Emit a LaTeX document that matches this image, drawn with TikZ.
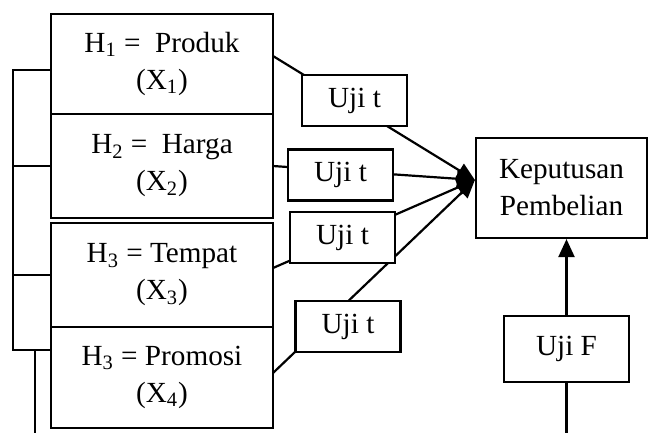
\documentclass[tikz,border=0pt]{standalone}
\usepackage{fontspec}
\setmainfont{Liberation Serif}
\usetikzlibrary{positioning, arrows.meta}

\begin{document}
\begin{tikzpicture}[x=0.5pt, y=-0.5pt, line width=1.1pt,
  every node/.style={font=\fontsize{14.6}{18.5}\selectfont},
  var/.style={draw, rectangle, minimum width=111pt, align=center, inner sep=0pt, outer sep=0pt},
  uji/.style={draw, fill=white, minimum width=52.5pt, minimum height=25.5pt, inner sep=0pt},
  tip/.style={-{Triangle[length=9pt, width=8pt]}}]
  \useasboundingbox (0,0) rectangle (648,433);
  \coordinate (B) at (0,433);

  \node[var, minimum height=50pt] (H1) at (162,64) {H\textsubscript{1} =\ \ Produk\\(X\textsubscript{1})};
  \node[var, minimum height=52pt, below=0pt of H1] (H2) {H\textsubscript{2} =\ \ Harga\\(X\textsubscript{2})};
  \node[var, minimum height=52pt, below=2.5pt of H2] (H3) {H\textsubscript{3} = Tempat\\(X\textsubscript{3})};
  \node[var, minimum height=50.5pt, below=0pt of H3] (H4) {H\textsubscript{3} = Promosi\\(X\textsubscript{4})};

  \node[draw, minimum width=85.5pt, minimum height=50pt, align=center] (KP) at (561.5,188) {Keputusan\\Pembelian};
  \node[draw, minimum width=62.5pt, minimum height=33pt] (UF) at (566.5,349) {Uji F\hspace{10pt}};
  \coordinate (T) at ([yshift=4pt]KP.west);

  % uji t
  \draw[tip] ([yshift=4pt]H1.east) -- (T);
  \draw[tip] (H2.east) -- (T);
  \draw[tip] ([yshift=3.5pt]H3.east) -- (T);
  \draw[tip] ([yshift=2.25pt]H4.east) -- (T);
  \node[uji] (U1) at (354.5,100.5) {Uji t};
  \node[uji] (U2) at (340.5,175) {Uji t};
  \node[uji] (U3) at (342.5,237.5) {Uji t};
  \node[uji] (U4) at (348,326.5) {Uji t};

  % uji F
  \draw[tip] (UF.north) -- (UF.north |- KP.south);
  \draw (UF.south) -- (UF.south |- B);

  % bracket
  \coordinate (L4) at ([yshift=13.75pt]H4.west);
  \draw ([yshift=-3pt]H1.west) -- ++(-19pt,0) |- (L4);
  \draw (H2.west) -- ++(-19pt,0);
  \draw (H3.west) -- ++(-19pt,0);
  \draw ([xshift=-8pt]L4) -- ([xshift=-8pt]L4 |- B);
\end{tikzpicture}
\end{document}
